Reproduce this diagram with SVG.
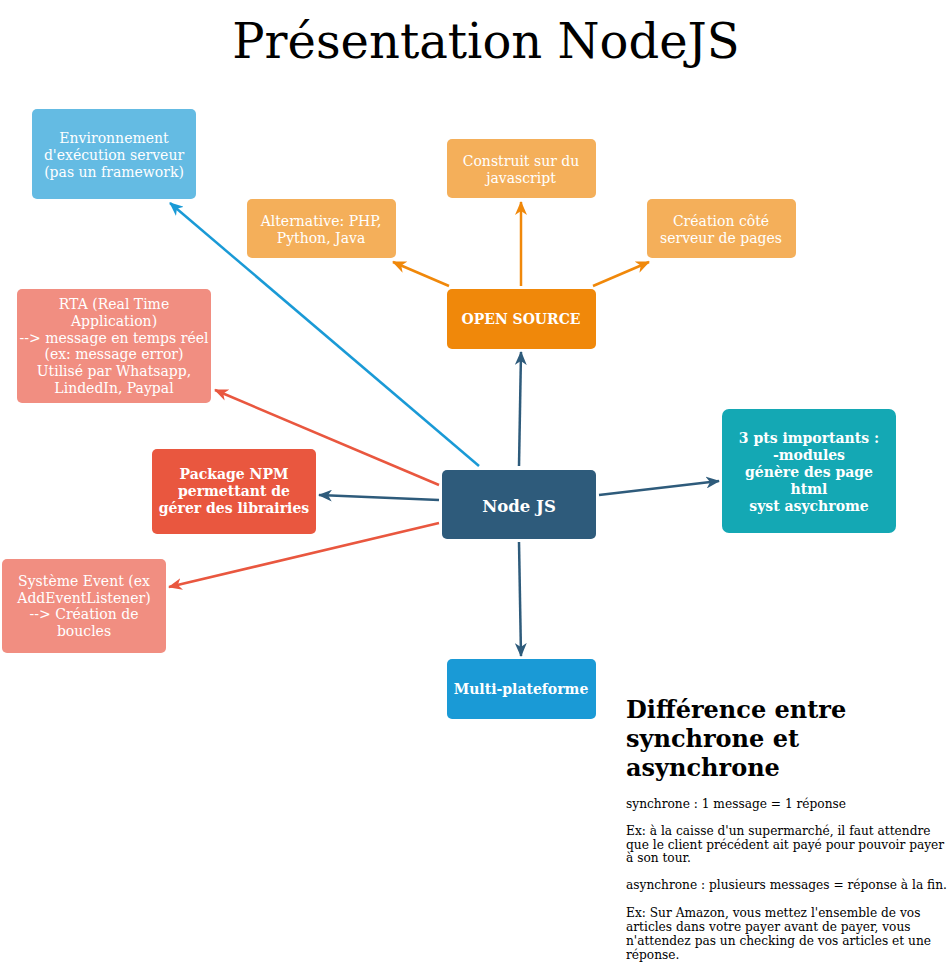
<svg xmlns="http://www.w3.org/2000/svg" width="952" height="970" viewBox="0 0 952 970">
<defs>
<style>
.t{font-family:"DejaVu Serif","Liberation Serif",serif;fill:#fff;font-size:14px;text-anchor:middle}
.b{font-weight:bold}
.c{fill:none;stroke-width:2.5}
.note{font-family:"DejaVu Serif","Liberation Serif",serif;fill:#000;font-size:12.2px}
</style>
<marker id="mBlue" markerUnits="userSpaceOnUse" markerWidth="14" markerHeight="12" refX="13" refY="6" orient="auto"><path d="M0,0 L14,6 L0,12 L4,6 z" fill="#1A9AD6"/></marker>
<marker id="mOr" markerUnits="userSpaceOnUse" markerWidth="14" markerHeight="12" refX="13" refY="6" orient="auto"><path d="M0,0 L14,6 L0,12 L4,6 z" fill="#F0880A"/></marker>
<marker id="mDk" markerUnits="userSpaceOnUse" markerWidth="14" markerHeight="12" refX="13" refY="6" orient="auto"><path d="M0,0 L14,6 L0,12 L4,6 z" fill="#2E5B7B"/></marker>
<marker id="mRed" markerUnits="userSpaceOnUse" markerWidth="14" markerHeight="12" refX="13" refY="6" orient="auto"><path d="M0,0 L14,6 L0,12 L4,6 z" fill="#E9573F"/></marker>
</defs>
<rect width="952" height="970" fill="#fff"/>
<text x="486" y="58" style="font-family:'DejaVu Serif','Liberation Serif',serif;font-size:48px;text-anchor:middle;fill:#000">Présentation NodeJS</text>

<g id="connectors">
<line class="c" x1="479" y1="466" x2="170" y2="203" stroke="#1A9AD6" marker-end="url(#mBlue)"/>
<line class="c" x1="449" y1="286" x2="393" y2="262" stroke="#F0880A" marker-end="url(#mOr)"/>
<line class="c" x1="521" y1="286" x2="521" y2="202" stroke="#F0880A" marker-end="url(#mOr)"/>
<line class="c" x1="593" y1="286" x2="649" y2="262" stroke="#F0880A" marker-end="url(#mOr)"/>
<line class="c" x1="519" y1="466" x2="521" y2="352" stroke="#2E5B7B" marker-end="url(#mDk)"/>
<line class="c" x1="439" y1="485" x2="215" y2="390" stroke="#E9573F" marker-end="url(#mRed)"/>
<line class="c" x1="439" y1="500" x2="319" y2="495" stroke="#2E5B7B" marker-end="url(#mDk)"/>
<line class="c" x1="439" y1="523" x2="169" y2="587" stroke="#E9573F" marker-end="url(#mRed)"/>
<line class="c" x1="599" y1="495" x2="719" y2="481" stroke="#2E5B7B" marker-end="url(#mDk)"/>
<line class="c" x1="519" y1="542" x2="521" y2="656" stroke="#2E5B7B" marker-end="url(#mDk)"/>
</g>

<g id="env">
<rect x="32" y="109" width="164" height="90" rx="5" fill="#64BBE3"/>
<text class="t"><tspan x="114" y="143">Environnement</tspan><tspan x="114" y="160">d'exécution serveur</tspan><tspan x="114" y="177">(pas un framework)</tspan></text>
</g>
<g id="alt">
<rect x="247" y="199" width="149" height="59" rx="5" fill="#F4AF5A"/>
<text class="t"><tspan x="321" y="226">Alternative: PHP,</tspan><tspan x="321" y="243">Python, Java</tspan></text>
</g>
<g id="construit">
<rect x="447" y="139" width="149" height="59" rx="5" fill="#F4AF5A"/>
<text class="t"><tspan x="521" y="166">Construit sur du</tspan><tspan x="521" y="183">javascript</tspan></text>
</g>
<g id="creation">
<rect x="647" y="199" width="149" height="59" rx="5" fill="#F4AF5A"/>
<text class="t"><tspan x="721" y="226">Création côté</tspan><tspan x="721" y="243">serveur de pages</tspan></text>
</g>
<g id="opensource">
<rect x="447" y="289" width="149" height="60" rx="5" fill="#F0880A"/>
<text class="t b" x="521" y="324">OPEN SOURCE</text>
</g>
<g id="rta">
<rect x="17" y="289" width="194" height="114" rx="5" fill="#F18E81"/>
<text class="t"><tspan x="114" y="309">RTA (Real Time</tspan><tspan x="114" y="326">Application)</tspan><tspan x="114" y="343">--&gt; message en temps réel</tspan><tspan x="114" y="359">(ex: message error)</tspan><tspan x="114" y="376">Utilisé par Whatsapp,</tspan><tspan x="114" y="393">LindedIn, Paypal</tspan></text>
</g>
<g id="npm">
<rect x="152" y="449" width="164" height="85" rx="5" fill="#E9573F"/>
<text class="t b"><tspan x="234" y="479">Package NPM</tspan><tspan x="234" y="496">permettant de</tspan><tspan x="234" y="513">gérer des librairies</tspan></text>
</g>
<g id="nodejs">
<rect x="442" y="470" width="154" height="69" rx="5" fill="#2E5B7B"/>
<text class="t b" x="519" y="512" style="font-size:16.5px">Node JS</text>
</g>
<g id="pts">
<rect x="722" y="409" width="174" height="124" rx="7" fill="#14A8B4"/>
<text class="t b"><tspan x="809" y="443">3 pts importants :</tspan><tspan x="809" y="460">-modules</tspan><tspan x="809" y="477">génère des page</tspan><tspan x="809" y="494">html</tspan><tspan x="809" y="511">syst asychrome</tspan></text>
</g>
<g id="event">
<rect x="2" y="559" width="164" height="94" rx="5" fill="#F18E81"/>
<text class="t"><tspan x="84" y="586">Système Event (ex</tspan><tspan x="84" y="603">AddEventListener)</tspan><tspan x="84" y="619">--&gt; Création de</tspan><tspan x="84" y="636">boucles</tspan></text>
</g>
<g id="multi">
<rect x="447" y="659" width="149" height="60" rx="5" fill="#1A9AD6"/>
<text class="t b" x="521" y="694">Multi-plateforme</text>
</g>

<g id="note">
<text class="note b" style="font-size:24px"><tspan x="626" y="718">Différence entre</tspan><tspan x="626" y="747">synchrone et</tspan><tspan x="626" y="776">asynchrone</tspan></text>
<text class="note"><tspan x="626" y="808">synchrone : 1 message = 1 réponse</tspan></text>
<text class="note"><tspan x="626" y="835">Ex: à la caisse d'un supermarché, il faut attendre</tspan><tspan x="626" y="848.7">que le client précédent ait payé pour pouvoir payer</tspan><tspan x="626" y="862.4">à son tour.</tspan></text>
<text class="note"><tspan x="626" y="889">asynchrone : plusieurs messages = réponse à la fin.</tspan></text>
<text class="note"><tspan x="626" y="917">Ex: Sur Amazon, vous mettez l'ensemble de vos</tspan><tspan x="626" y="931">articles dans votre payer avant de payer, vous</tspan><tspan x="626" y="945">n'attendez pas un checking de vos articles et une</tspan><tspan x="626" y="959">réponse.</tspan></text>
</g>
</svg>
